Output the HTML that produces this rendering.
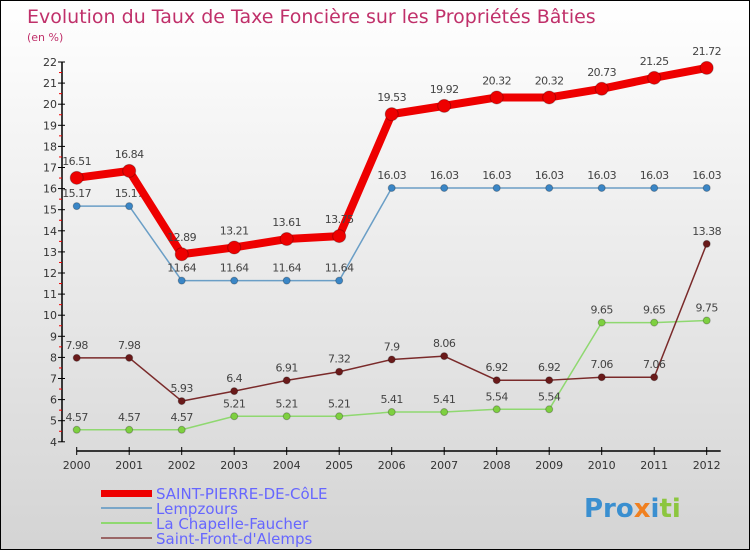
<!DOCTYPE html>
<html><head><meta charset="utf-8"><style>
body{margin:0}
#c{width:748px;height:548px;border:1px solid #000;background:linear-gradient(#fff,#d4d4d4);position:relative;overflow:hidden;font-family:"DejaVu Sans","Liberation Sans",sans-serif}
</style></head><body>
<div id="c">
<svg id="s" width="748" height="548" style="position:absolute;left:0;top:0">
<text x="26" y="22" font-size="19" fill="#c0306a">Evolution du Taux de Taxe Foncière sur les Propriétés Bâties</text>
<text x="26" y="40" font-size="11" fill="#c0306a">(en %)</text>
<g id="axes"></g><g id="series"></g>
<g>
<rect x="100" y="489" width="51" height="7" fill="#e00"/>
<text x="155" y="498" font-size="15" fill="#6666ff">SAINT-PIERRE-DE-CôLE</text>
<line x1="100" y1="507" x2="151" y2="507" stroke="#7aa6c8" stroke-width="2"/>
<text x="155" y="513" font-size="15" fill="#6666ff">Lempzours</text>
<line x1="100" y1="522" x2="151" y2="522" stroke="#8fd870" stroke-width="2"/>
<text x="155" y="528" font-size="15" fill="#6666ff">La Chapelle-Faucher</text>
<line x1="100" y1="537" x2="151" y2="537" stroke="#9a6666" stroke-width="2"/>
<text x="155" y="543" font-size="15" fill="#6666ff">Saint-Front-d'Alemps</text>
</g>
<text x="583" y="516" font-size="26" font-weight="bold" fill="#3a8fd0">Pro<tspan fill="#f08020">x</tspan><tspan fill="#3a8fd0">i</tspan><tspan fill="#8cc63f">ti</tspan></text>
</svg>
</div>
<script>
const years=[2000,2001,2002,2003,2004,2005,2006,2007,2008,2009,2010,2011,2012];
const yTicks=[4,5,6,7,8,9,10,11,12,13,14,15,16,17,18,19,20,21,22];
const stPierre=[16.51,16.84,12.89,13.21,13.61,13.75,19.53,19.92,20.32,20.32,20.73,21.25,21.72];
const lempzours=[15.17,15.17,11.64,11.64,11.64,11.64,16.03,16.03,16.03,16.03,16.03,16.03,16.03];
const chapelle=[4.57,4.57,4.57,5.21,5.21,5.21,5.41,5.41,5.54,5.54,9.65,9.65,9.75];
const stFront=[7.98,7.98,5.93,6.4,6.91,7.32,7.9,8.06,6.92,6.92,7.06,7.06,13.38];
const NS="http://www.w3.org/2000/svg";
const X=i=>75.7+i*52.5, Y=v=>61+(22-v)*21.1;
function mk(t,a,p){const e=document.createElementNS(NS,t);for(const k in a)e.setAttribute(k,a[k]);p.appendChild(e);return e;}
const ax=document.getElementById('axes'),sg=document.getElementById('series');
let l=mk('line',{x1:61,y1:Y(22),x2:61,y2:Y(4),stroke:'#000','stroke-width':1.5},ax);


yTicks.forEach(v=>{
 mk('line',{x1:57,y1:Y(v),x2:64,y2:Y(v),stroke:'#000'},ax);
 if(v<22)mk('line',{x1:58,y1:Y(v+0.5),x2:61,y2:Y(v+0.5),stroke:'#e00'},ax);
 const t=mk('text',{x:56,y:Y(v)+4,'font-size':11,'text-anchor':'end',fill:'#333'},ax);t.textContent=v;
 
 
});
l=mk('line',{x1:X(0),y1:450,x2:X(12)+14,y2:450,stroke:'#000','stroke-width':1.5},ax);


years.forEach((y,i)=>{
 mk('line',{x1:X(i),y1:446,x2:X(i),y2:454,stroke:'#000'},ax);
 const t=mk('text',{x:X(i),y:468,'font-size':11,'text-anchor':'middle',fill:'#333'},ax);t.textContent=y;
 
 
});
function series(data,color,dot,w,r,name){
 const g=mk('g',{},sg);
 
 
 mk('polyline',{points:data.map((v,i)=>X(i)+','+Y(v)).join(' '),fill:'none',stroke:color,'stroke-width':w,'stroke-linejoin':'round'},g);
 data.forEach((v,i)=>{
  const c=mk('circle',{cx:X(i),cy:Y(v),r:r,fill:dot,stroke:'rgba(0,0,0,0.25)'},g);
  
  
  const t=mk('text',{x:X(i),y:Y(v)-9-(r>5?4:0),'font-size':11,'text-anchor':'middle',fill:'#444','letter-spacing':'-0.5'},g);t.textContent=v;
  
  
 });
}
series(lempzours,'#6a9ec6','#3a86c6',1.5,3.5,'lempzours');
series(chapelle,'#8fd870','#7ed040',1.5,3.5,'la-chapelle');
series(stFront,'#7a2a2a','#6a1a1a',1.5,3.5,'saint-front');
series(stPierre,'#ee0000','#ee0000',8,6.5,'saint-pierre');
</script>
</body></html>
